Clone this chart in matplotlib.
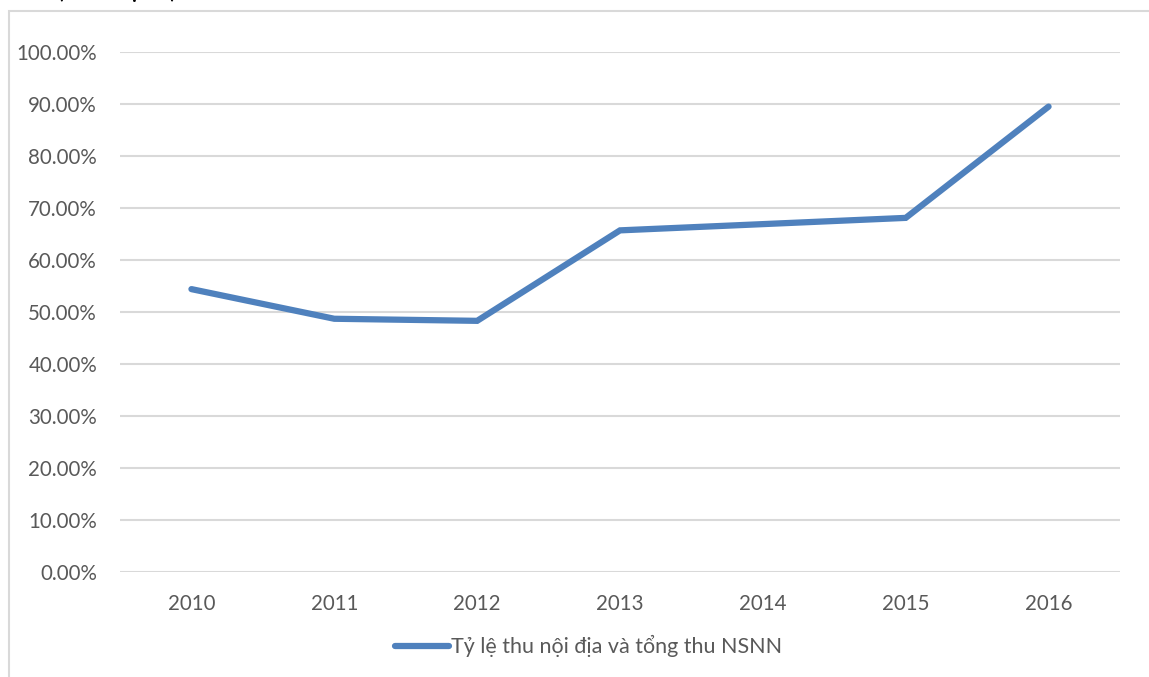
import matplotlib
matplotlib.use("Agg")
import matplotlib.pyplot as plt
from matplotlib.patches import Rectangle
from matplotlib.ticker import FuncFormatter

years = ["2010", "2011", "2012", "2013", "2014", "2015", "2016"]
ratio = [54.4, 48.7, 48.3, 65.7, 66.9, 68.1, 89.5]
series_name = "Tỷ lệ thu nội địa và tổng thu NSNN"
y_ticks = [0, 10, 20, 30, 40, 50, 60, 70, 80, 90, 100]

FONT = ["Lato", "DejaVu Sans"]
plt.rcParams["font.family"] = FONT

W, H = 1149, 677
fig = plt.figure(figsize=(W / 100, H / 100), dpi=100)

# outer chart frame
fig.add_artist(Rectangle((9 / W, -0.05), 1.2, 1 - 11 / H + 0.05,
                         transform=fig.transFigure, fill=False,
                         edgecolor="#d9d9d9", linewidth=1.5))

# heading partly above the frame
fig.text(57 / W, 1 + 2 / H, "(Đơn vị: %)", fontsize=18, color="black",
         ha="left", va="baseline")

ax = fig.add_axes([120 / W, (H - 572) / H, 1000 / W, 520 / H])
x = list(range(len(years)))
ax.plot(x, ratio, color="#4f81bd", linewidth=4.5, solid_capstyle="round",
        solid_joinstyle="miter", label=series_name, zorder=3)

ax.set_xlim(-0.5, len(years) - 0.5)
ax.set_ylim(0, 100)
ax.set_yticks(y_ticks)
ax.yaxis.set_major_formatter(FuncFormatter(lambda v, p: f"{v:.2f}%"))
ax.set_xticks(x)
ax.set_xticklabels(years)
ax.grid(axis="y", color="#d9d9d9", linewidth=1.5, zorder=0)
ax.set_axisbelow(True)
for s in ax.spines.values():
    s.set_visible(False)
ax.tick_params(axis="both", length=0, labelsize=14.8, labelcolor="#595959")
ax.tick_params(axis="y", pad=16.5)
ax.tick_params(axis="x", pad=16)

leg = fig.legend(loc="center", bbox_to_anchor=(589 / W, 1 - 646 / H),
                 frameon=False, fontsize=15.5, handlelength=2.5,
                 handletextpad=0.1, borderpad=0)
for t in leg.get_texts():
    t.set_color("#595959")

fig.savefig("out.png", dpi=100)
